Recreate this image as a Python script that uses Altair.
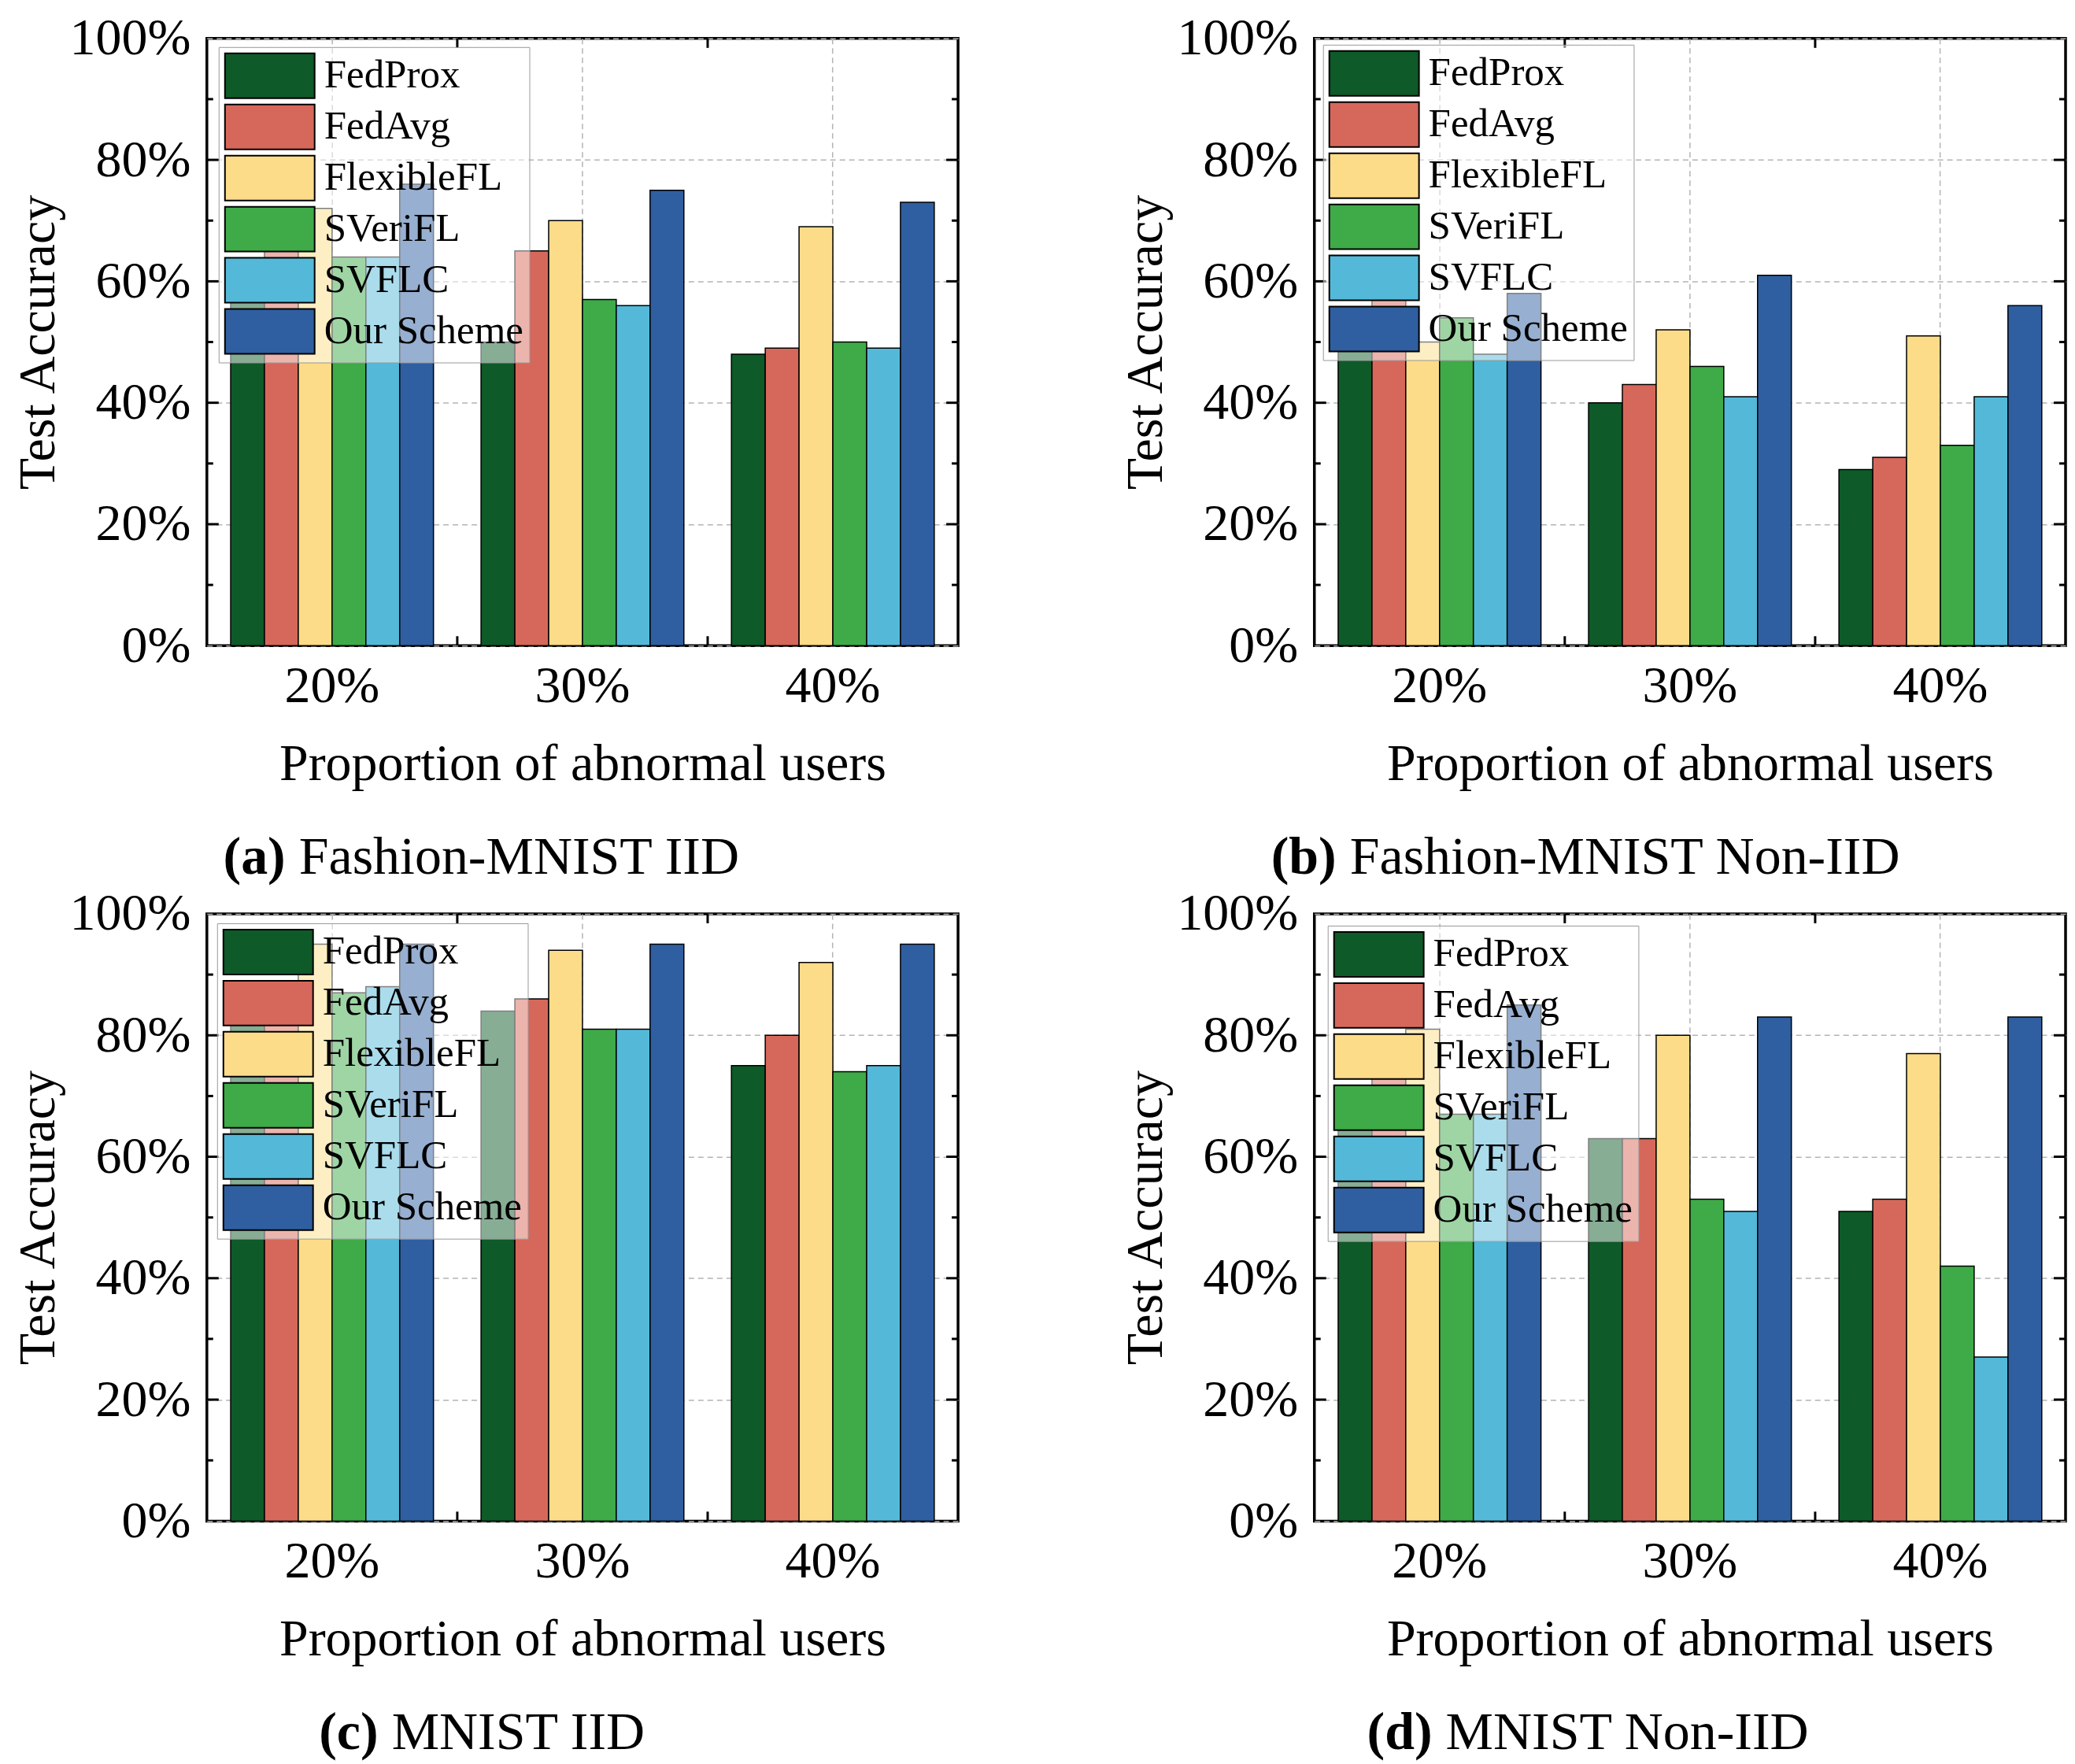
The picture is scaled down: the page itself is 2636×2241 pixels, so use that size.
import altair as alt
import pandas as pd

cats = ["20%", "30%", "40%"]
methods = ["FedProx", "FedAvg", "FlexibleFL", "SVeriFL", "SVFLC", "Our Scheme"]
colors = ["#0e5a28", "#d6685b", "#fddc89", "#3faa48", "#54b9d8", "#2f5fa0"]

# (a) Fashion-MNIST IID
a_fedprox = [57, 50, 48]
a_fedavg = [65, 65, 49]
a_flexible = [72, 70, 69]
a_sverifl = [64, 57, 50]
a_svflc = [64, 56, 49]
a_ours = [76, 75, 73]

# (b) Fashion-MNIST Non-IID
b_fedprox = [53, 40, 29]
b_fedavg = [57, 43, 31]
b_flexible = [50, 52, 51]
b_sverifl = [54, 46, 33]
b_svflc = [48, 41, 41]
b_ours = [58, 61, 56]

# (c) MNIST IID
c_fedprox = [86, 84, 75]
c_fedavg = [88, 86, 80]
c_flexible = [95, 94, 92]
c_sverifl = [87, 81, 74]
c_svflc = [88, 81, 75]
c_ours = [95, 95, 95]

# (d) MNIST Non-IID
d_fedprox = [68, 63, 51]
d_fedavg = [75, 63, 53]
d_flexible = [81, 80, 77]
d_sverifl = [67, 53, 42]
d_svflc = [67, 51, 27]
d_ours = [85, 83, 83]

y_labels = [0, 20, 40, 60, 80, 100]
major_ticks = [20, 40, 60, 80]
minor_ticks = [10, 30, 50, 70, 90]
x_boundaries = ["30%", "40%"]

W, H = 955, 772
FONT = "Liberation Serif"


def panel(series, legend_xy, cap_bold, cap_rest, split):
    rows = []
    for m, vals in zip(methods, series):
        for c, v in zip(cats, vals):
            rows.append({"cat": c, "method": m, "acc": v})
    df = pd.DataFrame(rows)

    yscale = alt.Scale(domain=[0, 100], nice=False, zero=True)
    xscale = alt.Scale(domain=cats, paddingInner=0, paddingOuter=0)

    bars = alt.Chart(df).mark_bar(stroke="black", strokeWidth=1.5).encode(
        x=alt.X("cat:N", scale=xscale, sort=cats,
                axis=alt.Axis(title="Proportion of abnormal users", labelAngle=0,
                              ticks=False, tickSize=0, domain=False, grid=True,
                              gridDash=[7, 5], gridColor="#b4b4b4", gridWidth=1.5,
                              bandPosition=0.5, labelPadding=19, titlePadding=34,
                              labelFontSize=66, titleFontSize=66, labelFont=FONT,
                              titleFont=FONT, titleFontWeight="normal",
                              labelColor="black", titleColor="black")),
        xOffset=alt.XOffset("method:N", sort=methods,
                            scale=alt.Scale(domain=methods, paddingInner=0, paddingOuter=0.7037)),
        y=alt.Y("acc:Q", scale=yscale,
                axis=alt.Axis(title="Test Accuracy", values=y_labels,
                              labelExpr="datum.value + '%'", ticks=False, tickSize=0,
                              domain=False, grid=True, gridDash=[7, 5],
                              gridColor="#b4b4b4", gridWidth=1.5, labelPadding=21,
                              titlePadding=5, labelFontSize=66, titleFontSize=66,
                              labelFont=FONT, titleFont=FONT, titleFontWeight="normal",
                              labelColor="black", titleColor="black")),
        color=alt.Color("method:N", sort=methods,
                        scale=alt.Scale(domain=methods, range=colors),
                        legend=alt.Legend(title=None, orient="none",
                                          legendX=legend_xy[0], legendY=legend_xy[1],
                                          symbolType="M-1,-1H3V1H-1Z",
                                          symbolSize=3249, symbolStrokeColor="black",
                                          symbolStrokeWidth=2, symbolOpacity=1,
                                          labelFont=FONT, labelFontSize=51,
                                          labelColor="black", labelOffset=68,
                                          labelLimit=0, rowPadding=0, padding=7,
                                          fillColor="rgba(255,255,255,0.5)",
                                          strokeColor="#999999", cornerRadius=0)),
    )

    maj = pd.DataFrame({"acc": major_ticks})
    mnr = pd.DataFrame({"acc": minor_ticks})
    bnd = pd.DataFrame({"cat": x_boundaries})

    def ytick(d, x0, x1):
        return alt.Chart(d).mark_rule(color="black", strokeWidth=3).encode(
            y=alt.Y("acc:Q", scale=yscale),
            x=alt.value(x0), x2=alt.value(x1))

    def xtick(y0, y1):
        return alt.Chart(bnd).mark_rule(color="black", strokeWidth=3).encode(
            x=alt.X("cat:N", scale=xscale, bandPosition=0),
            y=alt.value(y0), y2=alt.value(y1))

    ticks = [
        ytick(maj, 0, 15), ytick(mnr, 0, 8),
        ytick(maj, W, W - 15), ytick(mnr, W, W - 8),
        xtick(0, 12), xtick(H, H - 12),
    ]

    capb = alt.Chart(pd.DataFrame({"t": [cap_bold]})).mark_text(
        font=FONT, fontSize=68, fontWeight="bold", align="right",
        baseline="alphabetic", color="black").encode(
        text="t:N", x=alt.value(split), y=alt.value(H + 290))
    capr = alt.Chart(pd.DataFrame({"t": [cap_rest]})).mark_text(
        font=FONT, fontSize=68, fontWeight="normal", align="left",
        baseline="alphabetic", color="black").encode(
        text="t:N", x=alt.value(split + 17), y=alt.value(H + 290))

    return alt.layer(bars, *ticks, capb, capr).properties(width=W, height=H)


pa = panel([a_fedprox, a_fedavg, a_flexible, a_sverifl, a_svflc, a_ours],
           (15, 11), "(a)", "Fashion-MNIST IID", 100)
pb = panel([b_fedprox, b_fedavg, b_flexible, b_sverifl, b_svflc, b_ours],
           (11, 8), "(b)", "Fashion-MNIST Non-IID", 28)
pc = panel([c_fedprox, c_fedavg, c_flexible, c_sverifl, c_svflc, c_ours],
           (13, 12), "(c)", "MNIST IID", 218)
pd_ = panel([d_fedprox, d_fedavg, d_flexible, d_sverifl, d_svflc, d_ours],
            (17, 15), "(d)", "MNIST Non-IID", 150)

row1 = alt.hconcat(pa, pb, spacing=200).resolve_scale(color="independent").resolve_legend(color="independent")
row2 = alt.hconcat(pc, pd_, spacing=200).resolve_scale(color="independent").resolve_legend(color="independent")

chart = alt.vconcat(row1, row2, spacing=0).resolve_scale(
    color="independent").resolve_legend(color="independent").properties(
    padding={"left": 6, "top": 5, "right": 0, "bottom": 0}).configure(
    font=FONT, background="white").configure_view(stroke="black", strokeWidth=3.5)

chart.save("out.html", embed_options={"renderer": "svg", "actions": False})
